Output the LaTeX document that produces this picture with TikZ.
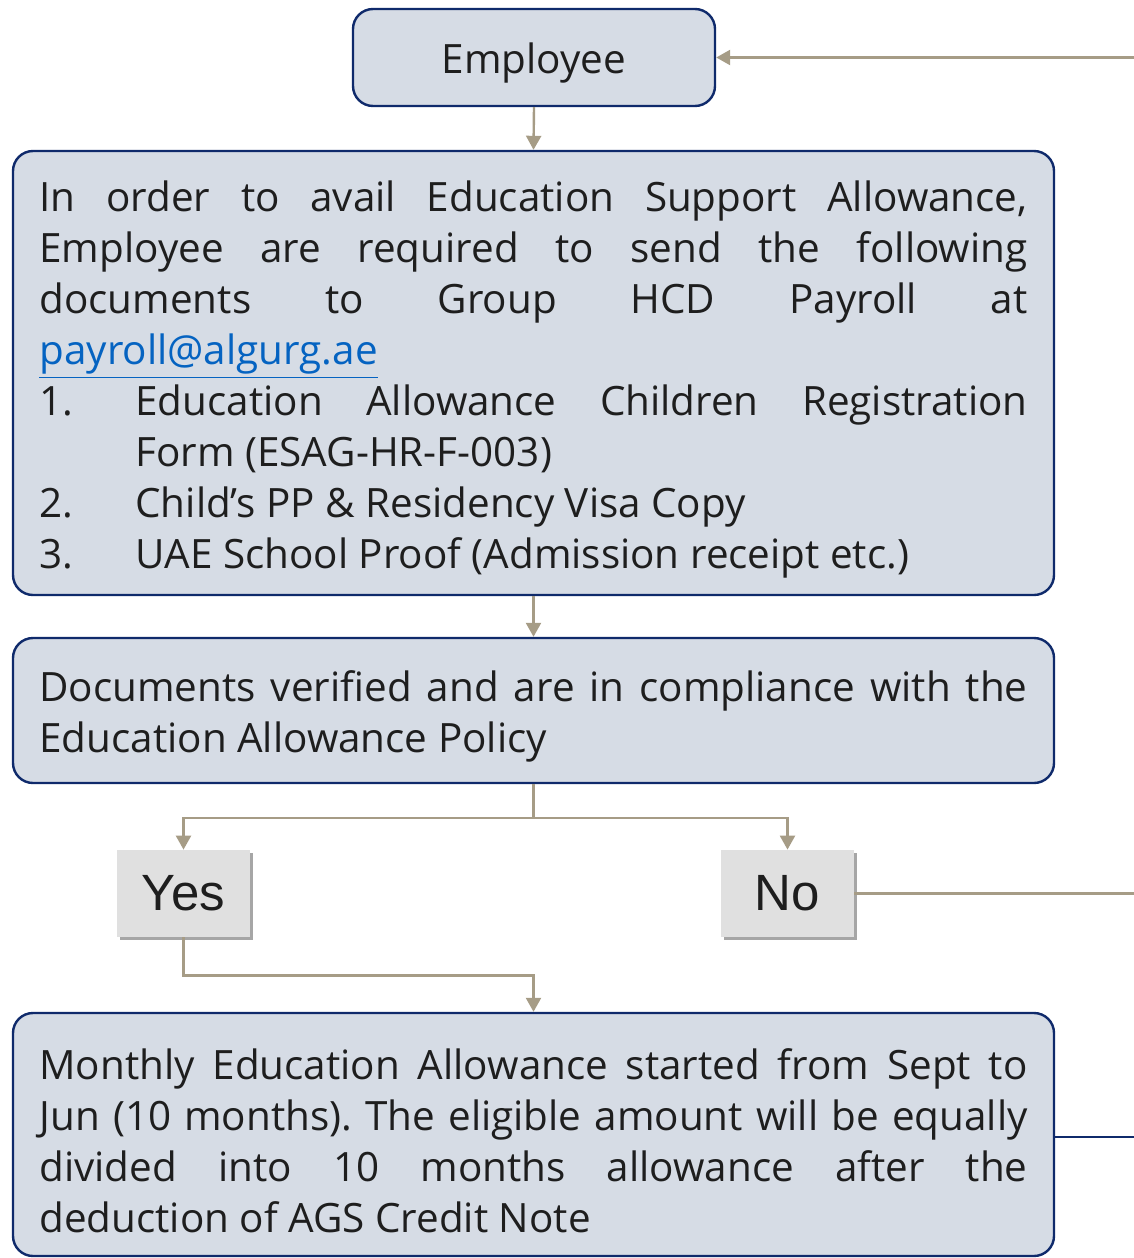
\documentclass[tikz,border=0pt]{standalone}
\usepackage{fontspec}
\setmainfont{Open Sans}
\newfontfamily\tagfont{Liberation Sans}
\usetikzlibrary{arrows.meta,shadows}
\definecolor{boxfill}{HTML}{D6DCE5}
\definecolor{boxline}{HTML}{0F2A6B}
\definecolor{flowtan}{HTML}{A69C86}
\definecolor{maillink}{HTML}{0563C1}
\definecolor{inktext}{HTML}{1E1E1E}
\definecolor{tagfill}{HTML}{E0E0E0}
\newcommand{\docitem}[2]{\par\noindent\hangindent=48pt\hangafter=1\makebox[48pt][l]{#1}#2}
\frenchspacing

\begin{document}
\begin{tikzpicture}[x=0.5pt,y=-0.5pt,
  procbox/.style={draw=boxline, line width=1.2pt, fill=boxfill, rounded corners=10pt,
    text=inktext, font=\fontsize{20.2}{25.5}\selectfont},
  textbox/.style={procbox, text width=494pt, align=justify, inner xsep=13.25pt, inner ysep=0pt,
    execute at begin node={\rule{0pt}{21.8pt}}},
  tagbox/.style={fill=tagfill, minimum width=66.5pt, minimum height=43.5pt, inner sep=0pt,
    text=inktext, font=\tagfont\fontsize{25.5}{30}\selectfont,
    drop shadow={shadow xshift=1.5pt, shadow yshift=-1.5pt, opacity=0.35, fill=black}},
  flow/.style={draw=flowtan, line width=1.2pt, -{Triangle[length=7pt,width=7.5pt]}},
  plainflow/.style={draw=flowtan, line width=1.2pt},
  navyflow/.style={draw=boxline, line width=1.2pt}]
\useasboundingbox (0,0) rectangle (1134,1258);
% Drawing boxes
% Box 1: Employee
\node[procbox, minimum width=181pt, minimum height=48.5pt] (emp) at (534,57.5)
  {\raisebox{-3pt}[\height][\depth]{Employee}};
% Box 2: documents to send
\node[textbox, minimum height=222pt] (req) at (533.5,373) {%
In order to avail Education Support Allowance,\linebreak
Employee are required to send the following\linebreak
documents to Group HCD Payroll at\linebreak
\textcolor{maillink}{\underline{payroll@algurg.ae}}
\docitem{1.}{Education Allowance Children Registration\linebreak Form (ESAG-HR-F-003)}
\docitem{2.}{Child’s PP \& Residency Visa Copy}
\docitem{3.}{UAE School Proof (Admission receipt etc.)}};
% Box 3: verification
\node[textbox, minimum height=72.5pt] (ver) at (533.5,710.5) {%
Documents verified and are in compliance with the\linebreak
Education Allowance Policy};
% Tags: Yes / No
\node[tagbox] (yes) at (183.5,893.5) {Yes};
\node[tagbox] (no) at (787.5,893.5) {No};
% Box 4: monthly allowance
\node[textbox, minimum height=121.5pt] (pay) at (533.5,1134.5) {%
Monthly Education Allowance started from Sept to\linebreak
Jun (10 months). The eligible amount will be equally\linebreak
divided into 10 months allowance after the\linebreak
deduction of AGS Credit Note};
% Done with boxes; drawing connectors
\coordinate (backin) at (1134,57.5);
\coordinate (noout) at (1134,893.5);
\coordinate (payout) at (1134,1137);
\draw[flow] (backin) -- (emp.east);
\draw[flow] (emp.south) -- (req.north);
\draw[flow] (req.south) -- (ver.north);
\draw[flow] (ver.south) -- ++(0,34) -| (yes.north);
\draw[flow] (ver.south) -- ++(0,34) -| (no.north);
\draw[flow] (yes.south) -- ++(0,38) -| (pay.north);
\draw[plainflow] (no.east) -- (noout);
\draw[navyflow] (pay.east |- payout) -- (payout);
% Done with connectors
\end{tikzpicture}
\end{document}
